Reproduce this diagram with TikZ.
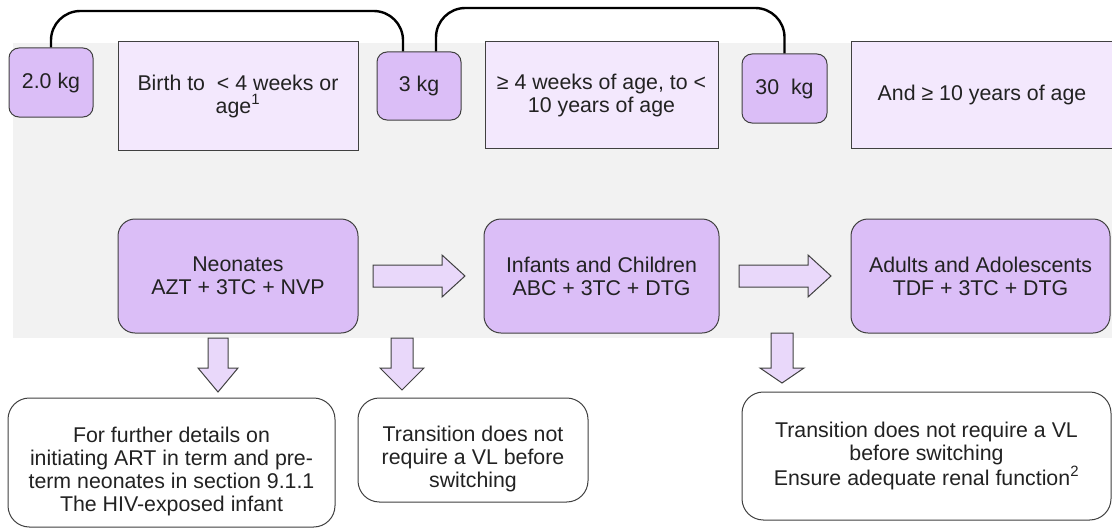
\documentclass[tikz,border=0pt]{standalone}
\usepackage{fontspec}
\setmainfont{Liberation Sans}
\usetikzlibrary{calc}
\definecolor{boxpurple}{RGB}{219,190,247}
\definecolor{palepurple}{RGB}{243,232,253}
\definecolor{arrowfill}{RGB}{233,216,250}
\definecolor{bggrey}{RGB}{242,242,242}
\definecolor{bordergrey}{RGB}{64,64,64}
\definecolor{txt}{RGB}{34,34,34}
\tikzset{
  base/.style={draw=bordergrey, line width=0.75pt, text=txt, align=center,
    inner sep=0pt, font=\fontsize{16pt}{17.25pt}\selectfont},
  weight/.style={base, fill=boxpurple, rounded corners=7.5pt},
  agebox/.style={base, fill=palepurple},
  groupbox/.style={base, fill=boxpurple, rounded corners=12.75pt},
  notebox/.style={base, fill=white, rounded corners=16pt},
  notetext/.style={text=txt, align=center, inner sep=0pt, font=\fontsize{16pt}{17.25pt}\selectfont},
  conn/.style={draw=black, line width=1.8pt, rounded corners=22pt},
  blockarrow/.style={draw=bordergrey, line width=0.75pt, fill=arrowfill, line join=miter}
}
\begin{document}
\begin{tikzpicture}[x=0.75pt, y=-0.75pt]
\useasboundingbox (0,0) rectangle (1112,528);
% grey band
\fill[bggrey] (13,43) rectangle (1112,338);

% top row
\node[weight, minimum width=63pt, minimum height=51.75pt] (w2) at (51,82.5) {2.0 kg};
\node[agebox, minimum width=180pt, minimum height=81pt] (birth) at (238,96) {Birth to~ < 4 weeks or\\age\textsuperscript{1}};
\node[weight, minimum width=63pt, minimum height=51pt] (w3) at (419,86) {3 kg};
\node[agebox, minimum width=174.75pt, minimum height=79.5pt] (weeks) at (601.5,95) {≥ 4 weeks of age, to <\\10 years of age};
\node[weight, minimum width=63.75pt, minimum height=51.75pt] (w30) at (784.5,88.5) {30~ kg};
\node[agebox, minimum width=196.5pt, minimum height=79.5pt] (tenyr) at (982,95) {And ≥ 10 years of age};

% connectors between weights
\coordinate (c1e) at ([xshift=-12pt]w3.north);
\coordinate (c2s) at ([xshift=12.75pt]w3.north);
\draw[conn] (w2.north) -- (w2.north |- 0,11) -- (c1e |- 0,11) -- (c1e);
\draw[conn] (c2s) -- (c2s |- 0,8) -- (w30.north |- 0,8) -- (w30.north);

% middle row
\node[groupbox, minimum width=180pt, minimum height=85.5pt] (neo) at (238,276) {Neonates\\AZT + 3TC + NVP};
\node[groupbox, minimum width=176.25pt, minimum height=85.5pt] (inf) at (601.5,276) {Infants and Children\\ABC + 3TC + DTG};
\node[groupbox, minimum width=194.25pt, minimum height=85.5pt] (adu) at (980.5,276) {Adults and Adolescents\\TDF + 3TC + DTG};

% right block arrows
\draw[blockarrow] (373,265) -- (442,265) -- (442,255) -- (465,276) -- (442,297) -- (442,287) -- (373,287) -- cycle;
\draw[blockarrow] (739,265) -- (808,265) -- (808,255) -- (831,276) -- (808,297) -- (808,287) -- (739,287) -- cycle;

% down block arrows
\draw[blockarrow] (208,338) -- (228,338) -- (228,368) -- (238,368) -- (218,392) -- (198,368) -- (208,368) -- cycle;
\draw[blockarrow] (391,338) -- (413,338) -- (413,368) -- (424,368) -- (402,390) -- (380,368) -- (391,368) -- cycle;
\draw[blockarrow] (771,333) -- (793,333) -- (793,368) -- (804,368) -- (782,383) -- (760,368) -- (771,368) -- cycle;

% bottom notes
\node[notebox, minimum width=245.25pt, minimum height=96.75pt] (b1) at (171.5,462.5) {};
\node[notetext] (b1t) at (171.5,471) {For further details on\\initiating ART in term and pre-\\term neonates in section 9.1.1\\The HIV-exposed infant};
\node[notebox, minimum width=172.5pt, minimum height=78pt] (b2) at (473,450) {};
\node[notetext] (b2t) at (473,459) {Transition does not\\require a VL before\\switching};
\node[notebox, minimum width=276.75pt, minimum height=96pt] (b3) at (926.5,456) {Transition does not require a VL\\before switching\\Ensure adequate renal function\textsuperscript{2}};
\end{tikzpicture}
\end{document}
